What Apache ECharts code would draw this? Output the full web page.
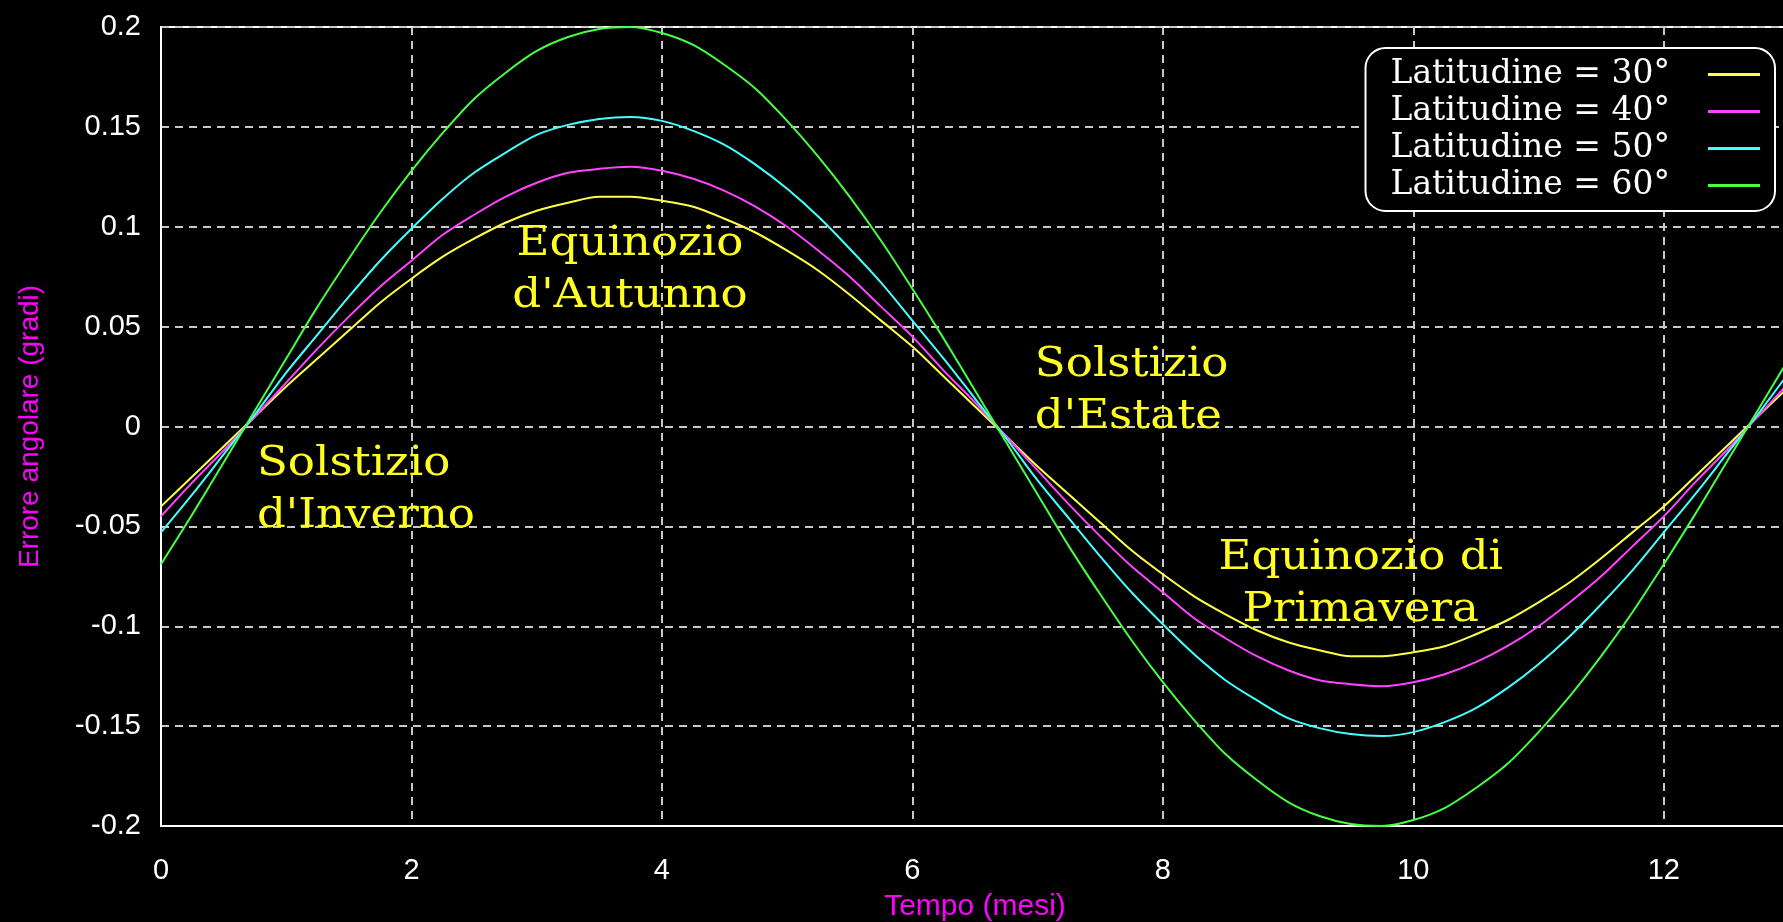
<!DOCTYPE html>
<html>
<head>
<meta charset="utf-8">
<script src="https://cdn.jsdelivr.net/npm/echarts@6/dist/echarts.min.js"></script>
<style>
html,body{margin:0;padding:0;background:#000;}
#chart{width:1783px;height:922px;}
</style>
</head>
<body>
<div id="chart"></div>
<script>
// Months (x values)
const months = [0,0.25,0.5,0.75,1,1.25,1.5,1.75,2,2.25,2.5,2.75,3,3.25,3.5,3.75,4,4.25,4.5,4.75,5,5.25,5.5,5.75,6,6.25,6.5,6.75,7,7.25,7.5,7.75,8,8.25,8.5,8.75,9,9.25,9.5,9.75,10,10.25,10.5,10.75,11,11.25,11.5,11.75,12,12.25,12.5,12.75,13];
// Errore angolare (gradi)
const lat30 = [-0.040,-0.025,-0.010,0.005,0.020,0.034,0.048,0.062,0.074,0.085,0.094,0.102,0.108,0.112,0.115,0.115,0.113,0.110,0.104,0.097,0.088,0.078,0.066,0.053,0.040,0.025,0.010,-0.005,-0.020,-0.034,-0.048,-0.062,-0.074,-0.085,-0.094,-0.102,-0.108,-0.112,-0.115,-0.115,-0.113,-0.110,-0.104,-0.097,-0.088,-0.078,-0.066,-0.053,-0.040,-0.025,-0.010,0.005,0.020];
const lat40 = [-0.045,-0.028,-0.012,0.005,0.022,0.039,0.055,0.070,0.083,0.096,0.106,0.115,0.122,0.127,0.129,0.130,0.128,0.124,0.118,0.110,0.100,0.088,0.075,0.060,0.045,0.028,0.012,-0.005,-0.022,-0.039,-0.055,-0.070,-0.083,-0.096,-0.106,-0.115,-0.122,-0.127,-0.129,-0.130,-0.128,-0.124,-0.118,-0.110,-0.100,-0.088,-0.075,-0.060,-0.045,-0.028,-0.012,0.005,0.022];
const lat50 = [-0.053,-0.034,-0.014,0.006,0.027,0.046,0.065,0.083,0.099,0.114,0.127,0.137,0.146,0.151,0.154,0.155,0.153,0.148,0.141,0.131,0.119,0.105,0.089,0.072,0.053,0.034,0.014,-0.006,-0.027,-0.046,-0.065,-0.083,-0.099,-0.114,-0.127,-0.137,-0.146,-0.151,-0.154,-0.155,-0.153,-0.148,-0.141,-0.131,-0.119,-0.105,-0.089,-0.072,-0.053,-0.034,-0.014,0.006,0.027];
const lat60 = [-0.069,-0.044,-0.018,0.008,0.034,0.060,0.084,0.107,0.128,0.147,0.164,0.177,0.188,0.195,0.199,0.200,0.197,0.191,0.181,0.169,0.153,0.135,0.115,0.093,0.069,0.044,0.018,-0.008,-0.034,-0.060,-0.084,-0.107,-0.128,-0.147,-0.164,-0.177,-0.188,-0.195,-0.199,-0.200,-0.197,-0.191,-0.181,-0.169,-0.153,-0.135,-0.115,-0.093,-0.069,-0.044,-0.018,0.008,0.034];
const seriesNames = ['Latitudine = 30°','Latitudine = 40°','Latitudine = 50°','Latitudine = 60°'];
const seriesColors = ['#ffff44','#ff44ff','#44ffff','#44ff44'];
const xAxisTitle = 'Tempo (mesi)';
const yAxisTitle = 'Errore angolare (gradi)';
// Annotations anchored in data coordinates
const annoTexts = ["Equinozio\nd'Autunno", "Solstizio\nd'Inverno", "Solstizio\nd'Estate", "Equinozio di\nPrimavera"];
const annoX = [3.745, 0.766, 6.978, 9.58];
const annoY = [0.078, -0.032, 0.0175, -0.079];
const annoAlign = ['center','left','left','center'];

const allValues = [lat30, lat40, lat50, lat60];
const chart = echarts.init(document.getElementById('chart'));
const sansFont = "'Liberation Sans', Arial, sans-serif";
const serifFont = "'DejaVu Serif', serif";

const option = {
  backgroundColor: '#000',
  animation: false,
  grid: {
    left: 161, top: 27, bottom: 96, width: 1628,
    outerBoundsMode: 'none',
    containLabel: false,
    show: true, borderColor: '#ffffff', borderWidth: 2, backgroundColor: 'transparent'
  },
  legend: {
    data: seriesNames,
    orient: 'vertical',
    align: 'right',
    right: 8, top: 48,
    padding: [8, 15, 7, 25],
    itemGap: 0,
    icon: 'rect',
    itemWidth: 52, itemHeight: 3,
    backgroundColor: '#000',
    borderColor: '#ffffff', borderWidth: 2, borderRadius: 20,
    textStyle: {
      color: '#ffffff', fontFamily: serifFont, fontSize: 33, lineHeight: 37,
      padding: [0, 33, 0, 0]
    }
  },
  xAxis: {
    type: 'value', min: 0, max: 13, interval: 2,
    name: xAxisTitle, nameLocation: 'middle', nameGap: 66,
    nameTextStyle: { color: '#ff00ff', fontFamily: sansFont, fontSize: 30 },
    axisLine: { show: true, onZero: false, lineStyle: { color: '#ffffff', width: 2 } },
    axisTick: { show: false },
    axisLabel: { color: '#ffffff', fontFamily: sansFont, fontSize: 29, margin: 30, showMaxLabel: false },
    splitLine: { show: true, lineStyle: { color: '#c8c8c8', type: [8, 6], width: 2 } }
  },
  yAxis: {
    type: 'value', min: -0.2, max: 0.2, interval: 0.05,
    name: yAxisTitle, nameLocation: 'middle', nameGap: 117,
    nameTextStyle: { color: '#ff00ff', fontFamily: sansFont, fontSize: 28 },
    axisLine: { show: true, onZero: false, lineStyle: { color: '#ffffff', width: 2 } },
    axisTick: { show: false },
    axisLabel: { color: '#ffffff', fontFamily: sansFont, fontSize: 29, margin: 20,
      formatter: v => String(+v.toFixed(2)) },
    splitLine: { show: true, lineStyle: { color: '#c8c8c8', type: [8, 6], width: 2 } }
  },
  series: seriesNames.map((name, i) => ({
    name: name,
    type: 'line',
    data: months.map((m, j) => [m, allValues[i][j]]),
    showSymbol: false,
    symbol: 'none',
    smooth: 0.3,
    lineStyle: { color: seriesColors[i], width: 2 },
    itemStyle: { color: seriesColors[i] },
    z: 3
  }))
};
chart.setOption(option);

const graphics = annoTexts.map((t, i) => {
  const p = chart.convertToPixel({ gridIndex: 0 }, [annoX[i], annoY[i]]);
  return {
    type: 'text',
    x: p[0], y: p[1],
    scaleX: 1.1,
    z: 10,
    style: {
      text: t,
      fill: '#ffff22',
      font: "41px 'DejaVu Serif', serif",
      align: annoAlign[i],
      verticalAlign: 'middle',
      lineHeight: 52
    }
  };
});
chart.setOption({ graphic: graphics });
</script>
</body>
</html>
